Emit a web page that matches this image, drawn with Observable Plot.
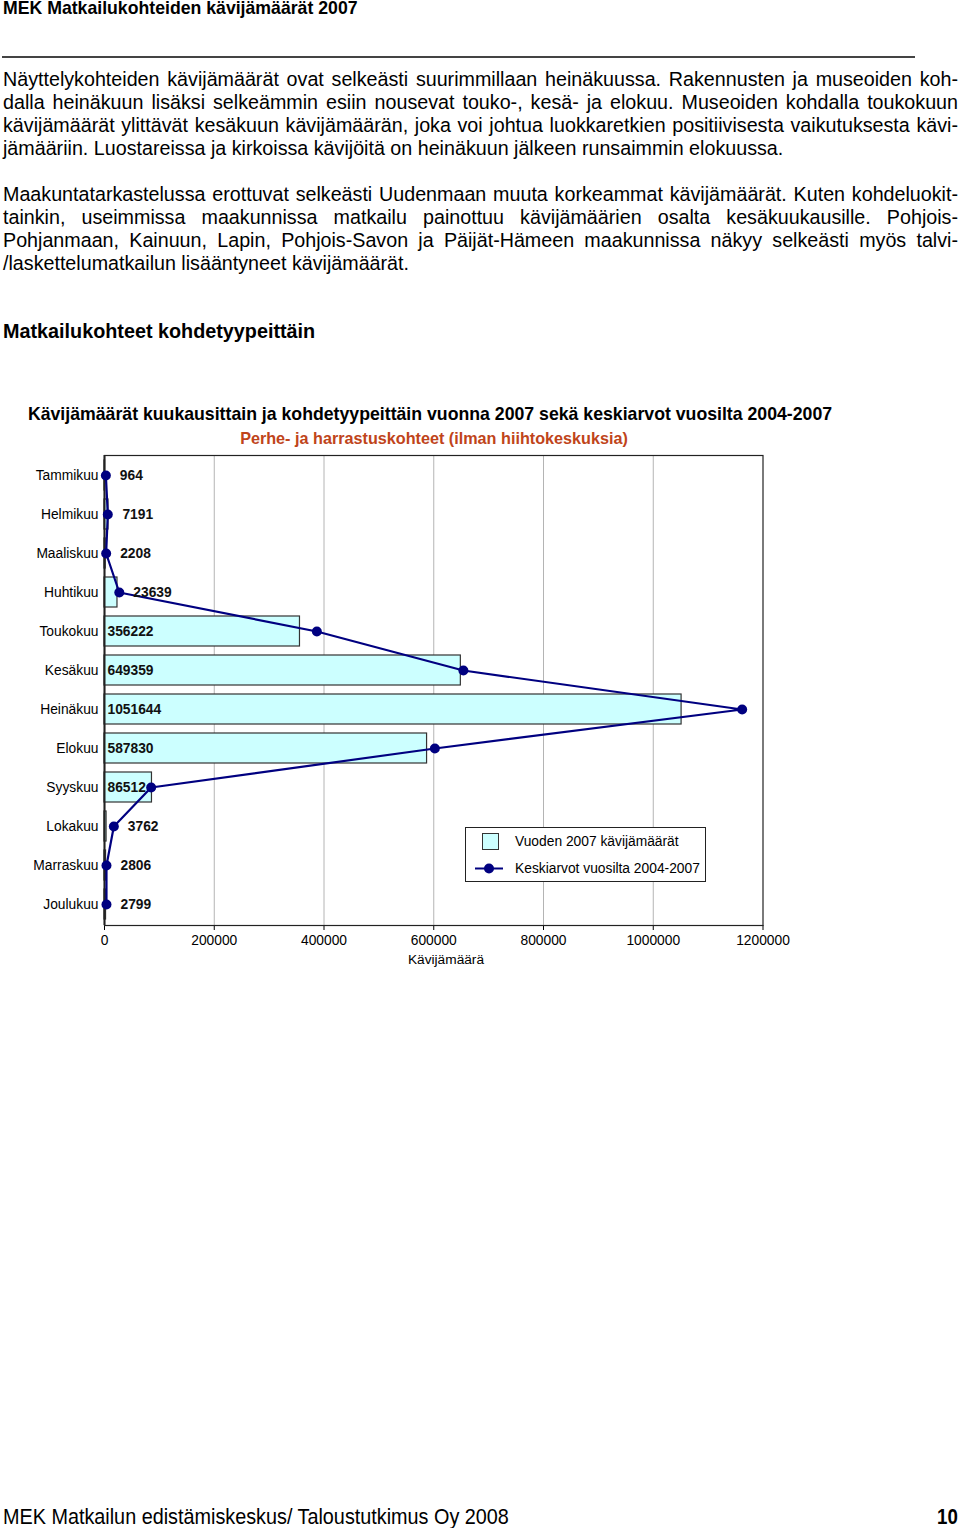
<!DOCTYPE html>
<html>
<head>
<meta charset="utf-8">
<script src="https://cdn.jsdelivr.net/npm/d3@7"></script>
<script src="https://cdn.jsdelivr.net/npm/@observablehq/plot@0.6"></script>
<style>
  html, body { margin: 0; padding: 0; background: #fff; }
  body { width: 960px; height: 1528px; position: relative; font-family: "Liberation Sans", Arial, sans-serif; color: #000; overflow: hidden; }
  .abs { position: absolute; white-space: nowrap; }
  .line { position: absolute; left: 3px; width: 955px; font-size: 19.7px; line-height: 23px; height: 23px; white-space: nowrap; }
  .just { text-align: justify; text-align-last: justify; white-space: normal; }
  #chart { position: absolute; left: 0; top: 446px; }
</style>
</head>
<body>
<div class="abs" id="pagetitle" style="left:3px; top:-2px; font-weight:bold; font-size:19px; line-height:20px; transform:scaleX(0.93); transform-origin:0 0;">MEK Matkailukohteiden kävijämäärät 2007</div>
<div class="abs" style="left:2px; top:56px; width:913px; height:2px; background:#444;"></div>

<div id="text"></div>

<div class="abs" id="heading" style="left:3px; top:319px; font-weight:bold; font-size:19.8px; line-height:24px;">Matkailukohteet kohdetyypeittäin</div>

<div class="abs" id="ctitle" style="left:0; width:860px; text-align:center; top:404px; font-weight:bold; font-size:17.7px; line-height:20px;">Kävijämäärät kuukausittain ja kohdetyypeittäin vuonna 2007 sekä keskiarvot vuosilta 2004-2007</div>
<div class="abs" id="csub" style="left:0; width:868px; text-align:center; top:428px; font-weight:bold; font-size:16.2px; line-height:20px; color:#C0441A;">Perhe- ja harrastuskohteet (ilman hiihtokeskuksia)</div>

<div id="chart"></div>

<div class="abs" style="left:346px; width:200px; text-align:center; top:951px; font-size:13.7px; line-height:18px;">Kävijämäärä</div>

<div class="abs" id="legend" style="left:465px; top:827px; width:239px; height:53px; border:1.5px solid #222; background:#fff;">
  <svg width="239" height="53" style="position:absolute; left:0; top:0;">
    <rect x="16.5" y="5.5" width="16" height="16" fill="#CCFFFF" stroke="#333" stroke-width="1"></rect>
    <line x1="9" x2="37" y1="40.5" y2="40.5" stroke="#000080" stroke-width="2"></line>
    <circle cx="23" cy="40.5" r="5" fill="#000080"></circle>
  </svg>
  <div class="abs" style="left:49px; top:5px; font-size:13.8px; line-height:18px;">Vuoden 2007 kävijämäärät</div>
  <div class="abs" style="left:49px; top:32px; font-size:13.8px; line-height:18px;">Keskiarvot vuosilta 2004-2007</div>
</div>

<div class="abs" id="footer" style="left:3px; top:1505px; font-size:22px; line-height:24px; transform:scaleX(0.9); transform-origin:0 0;">MEK Matkailun edistämiskeskus/ Taloustutkimus Oy 2008</div>
<div class="abs" style="left:937px; top:1505px; font-weight:bold; font-size:22px; line-height:24px; transform:scaleX(0.85); transform-origin:0 0;">10</div>

<script>
// ---- Body text lines ----
const paragraph1 = [
  "Näyttelykohteiden kävijämäärät ovat selkeästi suurimmillaan heinäkuussa. Rakennusten ja museoiden koh-",
  "dalla heinäkuun lisäksi selkeämmin esiin nousevat touko-, kesä- ja elokuu. Museoiden kohdalla toukokuun",
  "kävijämäärät ylittävät kesäkuun kävijämäärän, joka voi johtua luokkaretkien positiivisesta vaikutuksesta kävi-",
  "jämääriin. Luostareissa ja kirkoissa kävijöitä on heinäkuun jälkeen runsaimmin elokuussa."
];
const paragraph2 = [
  "Maakuntatarkastelussa erottuvat selkeästi Uudenmaan muuta korkeammat kävijämäärät. Kuten kohdeluokit-",
  "tainkin, useimmissa maakunnissa matkailu painottuu kävijämäärien osalta kesäkuukausille. Pohjois-",
  "Pohjanmaan, Kainuun, Lapin, Pohjois-Savon ja Päijät-Hämeen maakunnissa näkyy selkeästi myös talvi-",
  "/laskettelumatkailun lisääntyneet kävijämäärät."
];

// ---- Chart data ----
const months = ["Tammikuu","Helmikuu","Maaliskuu","Huhtikuu","Toukokuu","Kesäkuu","Heinäkuu","Elokuu","Syyskuu","Lokakuu","Marraskuu","Joulukuu"];
const visitors2007 = [964, 7191, 2208, 23639, 356222, 649359, 1051644, 587830, 86512, 3762, 2806, 2799];
const average2004_2007 = [2500, 6000, 3000, 27000, 387000, 654000, 1162000, 602000, 85000, 17000, 3600, 3600];
const xTicks = [0, 200000, 400000, 600000, 800000, 1000000, 1200000];

// render text
const textDiv = document.getElementById("text");
function addPara(lines, firstCenter) {
  lines.forEach((t, i) => {
    const d = document.createElement("div");
    d.className = "line" + (i < lines.length - 1 ? " just" : "");
    d.style.top = (firstCenter - 11.5 + i * 23) + "px";
    d.textContent = t;
    textDiv.appendChild(d);
  });
}
addPara(paragraph1, 79);
addPara(paragraph2, 194);

const data = months.map((m, i) => ({month: m, value: visitors2007[i], avg: average2004_2007[i]}));

const chart = Plot.plot({
  width: 960,
  height: 534,
  marginLeft: 104,
  marginRight: 197.5,
  marginTop: 9,
  marginBottom: 55,
  style: {fontFamily: "'Liberation Sans', Arial, sans-serif", fontSize: "13.8px", color: "#000", background: "transparent"},
  x: {domain: [0, 1200000], ticks: xTicks, tickFormat: d3.format("d"), tickSize: 5, tickPadding: 5, label: null},
  y: {type: "band", domain: months, paddingInner: 0.22, paddingOuter: 0.11, tickSize: 0, tickPadding: 6, label: null},
  marks: [
    Plot.ruleX(xTicks.slice(1, -1), {stroke: "#b4b4b4", strokeWidth: 1}),
    Plot.frame({stroke: "#222", strokeWidth: 1.2}),
    Plot.barX(data, {x: "value", y: "month", fill: "#CCFFFF", stroke: "#333", strokeWidth: 1.2}),
    Plot.ruleX([0], {stroke: "#222", strokeWidth: 2}),
    Plot.line(data, {x: "avg", y: "month", stroke: "#000080", strokeWidth: 2.2}),
    Plot.dot(data, {x: "avg", y: "month", r: 5, fill: "#000080", stroke: "none"}),
    Plot.text(data.filter(d => d.value >= 50000), {x: 0, y: "month", text: d => String(d.value), dx: 3, textAnchor: "start", fontWeight: "bold", fill: "#111"}),
    Plot.text(data.filter(d => d.value < 50000), {x: d => Math.max(d.value, d.avg), y: "month", text: d => String(d.value), dx: 14, textAnchor: "start", fontWeight: "bold", fill: "#111"})
  ]
});
document.getElementById("chart").appendChild(chart);
</script>
</body>
</html>
